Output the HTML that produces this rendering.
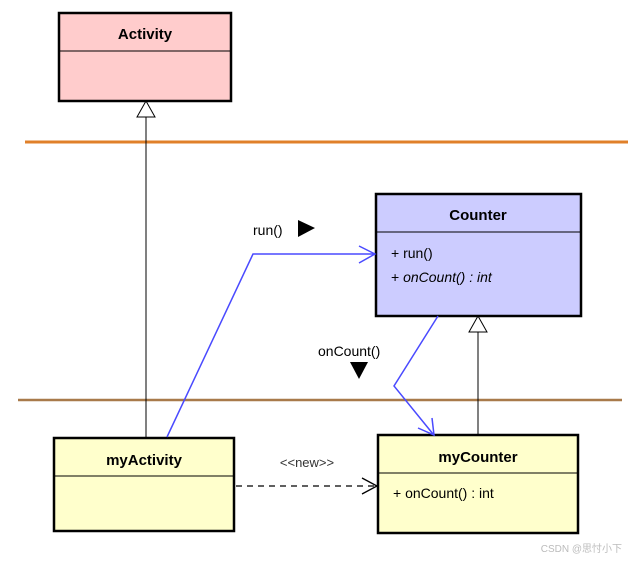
<!DOCTYPE html><html><head><style>body{margin:0;background:#fff}svg text{font-family:"Liberation Sans",sans-serif}</style></head><body>
<svg width="630" height="558" viewBox="0 0 630 558" xmlns="http://www.w3.org/2000/svg">
<line x1="25" y1="142" x2="628" y2="142" stroke="#e0802a" stroke-width="3"/>
<line x1="18" y1="400" x2="622" y2="400" stroke="#a87a4a" stroke-width="2.5"/>
<line x1="146" y1="117" x2="146" y2="437" stroke="#000"/>
<polygon points="146,101 137,117 155,117" fill="#fff" stroke="#000"/>
<line x1="478" y1="332" x2="478" y2="434" stroke="#000"/>
<polygon points="478,316 469,332 487,332" fill="#fff" stroke="#000"/>
<rect x="59" y="13" width="172" height="88" fill="#ffcccc" stroke="#000" stroke-width="2.5"/>
<line x1="59" y1="51" x2="231" y2="51" stroke="#000"/>
<text x="145" y="39" font-size="15" font-weight="bold" text-anchor="middle">Activity</text>
<rect x="376" y="194" width="205" height="122" fill="#ccccff" stroke="#000" stroke-width="2.5"/>
<line x1="376" y1="232" x2="581" y2="232" stroke="#000"/>
<text x="478" y="220" font-size="15" font-weight="bold" text-anchor="middle">Counter</text>
<text x="391" y="258" font-size="14">+ run()</text>
<text x="391" y="282" font-size="14">+ <tspan font-style="italic">onCount() : int</tspan></text>
<rect x="54" y="438" width="180" height="93" fill="#ffffcc" stroke="#000" stroke-width="2.5"/>
<line x1="54" y1="476" x2="234" y2="476" stroke="#000"/>
<text x="144" y="465" font-size="15" font-weight="bold" text-anchor="middle">myActivity</text>
<rect x="378" y="435" width="200" height="98" fill="#ffffcc" stroke="#000" stroke-width="2.5"/>
<line x1="378" y1="473" x2="578" y2="473" stroke="#000"/>
<text x="478" y="462" font-size="15" font-weight="bold" text-anchor="middle">myCounter</text>
<text x="393" y="498" font-size="14">+ onCount() : int</text>
<line x1="236" y1="486" x2="376" y2="486" stroke="#000" stroke-dasharray="6,5" stroke-width="1.3"/>
<polyline points="362,478 377,486 362,494" fill="none" stroke="#000" stroke-width="1.3"/>
<text x="307" y="467" font-size="13" text-anchor="middle" fill="#333">&lt;&lt;new&gt;&gt;</text>
<polyline points="167,437 253,254 375,254" fill="none" stroke="#4a4aff" stroke-width="1.5"/>
<polyline points="359,246 375,254 359,263" fill="none" stroke="#4a4aff" stroke-width="1.5"/>
<text x="253" y="235" font-size="14">run()</text>
<polygon points="298,220 298,237 315,228" fill="#000"/>
<polyline points="438,316 394,386 433,434" fill="none" stroke="#4a4aff" stroke-width="1.5"/>
<polyline points="418,428 434,435 432,418" fill="none" stroke="#4a4aff" stroke-width="1.5"/>
<text x="318" y="356" font-size="14">onCount()</text>
<polygon points="350,362 368,362 359,379" fill="#000"/>
<text x="622" y="552" font-size="10" text-anchor="end" fill="#bbb" style="font-family:'Liberation Sans','Noto Sans CJK SC',sans-serif">CSDN @思忖小下</text>
</svg></body></html>
